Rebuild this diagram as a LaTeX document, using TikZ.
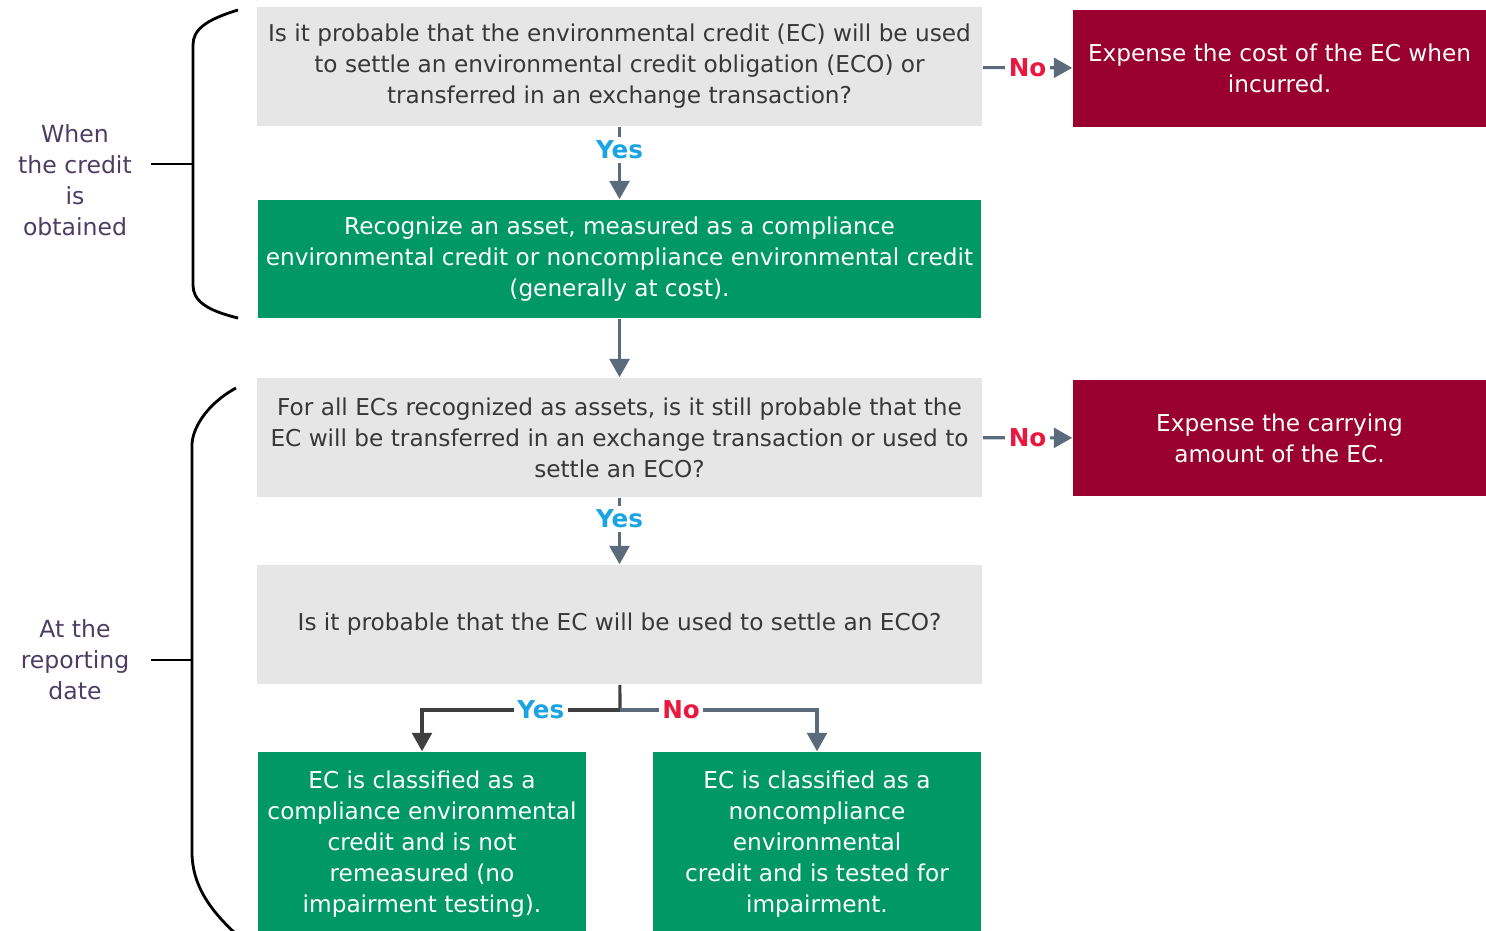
\documentclass[tikz,border=0pt]{standalone}
\usepackage{fontspec}
\setmainfont{DejaVu Sans}
\usepackage{tikz}
\usetikzlibrary{arrows.meta, positioning, calc}

\definecolor{qgray}{HTML}{E6E6E6}
\definecolor{okgreen}{HTML}{009966}
\definecolor{nored}{HTML}{990030}
\definecolor{slate}{HTML}{5B6B7C}
\definecolor{yescyan}{HTML}{1BA4E2}
\definecolor{nopink}{HTML}{E8183F}
\definecolor{darkline}{HTML}{3F3F3F}
\definecolor{phase}{HTML}{4E3D63}

\begin{document}
\begin{tikzpicture}[
    x=0.01cm, y=-0.01cm,
    font=\fontsize{6.6}{8.8}\selectfont,
    question/.style={fill=qgray, text=black!78, minimum width=7.25cm, minimum height=1.19cm, align=center, inner sep=0pt},
    result/.style={fill=okgreen, text=white, minimum width=7.23cm, minimum height=1.18cm, align=center, inner sep=0pt},
    expense/.style={fill=nored, text=white, minimum width=4.13cm, minimum height=1.16cm, align=center, inner sep=0pt},
    leaf/.style={fill=okgreen, text=white, minimum width=3.28cm, minimum height=1.84cm, align=center, inner sep=0pt},
    arrow/.style={-{Triangle[width=5.6pt, length=5.2pt]}, line width=0.9pt, draw=slate},
    yes/.style={fill=white, text=yescyan, font=\fontsize{7}{8}\selectfont\bfseries, inner sep=1pt},
    no/.style={fill=white, text=nopink, font=\fontsize{7}{8}\selectfont\bfseries, inner sep=1pt},
    phase/.style={text=phase, align=center, font=\fontsize{6.7}{8.8}\selectfont},
    brace/.style={line width=0.8pt, draw=black}
]
    \useasboundingbox (0,0) rectangle (1486,930);

    % first stage: obtaining the credit
    \node[question] (q1) at (619.5,66.5) {Is it probable that the environmental credit (EC) will be used\\to settle an environmental credit obligation (ECO) or\\transferred in an exchange transaction?};
    \node[expense] (r1) at (1279.5,68.5) {Expense the cost of the EC when\\incurred.};
    \node[result] (g1) at (619.5,259) {Recognize an asset, measured as a compliance\\environmental credit or noncompliance environmental credit\\(generally at cost).};

    % second stage: reporting date
    \node[question] (q2) at (619.5,437.5) {For all ECs recognized as assets, is it still probable that the\\EC will be transferred in an exchange transaction or used to\\settle an ECO?};
    \node[expense] (r2) at (1279.5,438) {Expense the carrying\\amount of the EC.};
    \node[question] (q3) at (619.5,624.5) {Is it probable that the EC will be used to settle an ECO?};
    \node[leaf] (g2) at (422,844) {EC is classified as a\\compliance environmental\\credit and is not\\remeasured (no\\impairment testing).};
    \node[leaf] (g3) at (817,844) {EC is classified as a\\noncompliance\\environmental\\credit and is tested for\\impairment.};

    \draw[arrow] (q1) -- (r1) node[midway, no] {No};
    \draw[arrow] (q1) -- (g1) node[pos=0.32, yes] {Yes};
    \draw[arrow] (g1) -- (q2);
    \draw[arrow] (q2) -- (r2) node[midway, no] {No};
    \draw[arrow] (q2) -- (q3) node[pos=0.32, yes] {Yes};

    % split below the last question
    \coordinate (split) at (620,710);
    \draw[line width=0.9pt, darkline] (q3) -- (split);
    \draw[arrow, draw=darkline] (split) -| node[pos=0.2, yes] {Yes} (g2);
    \draw[arrow] (split) -| node[pos=0.155, no] {No} (g3);

    % phase labels and braces
    \node[phase] (obtained) at (75,180) {When\\the credit\\is\\obtained};
    \node[phase] (reporting) at (75,660) {At the\\reporting\\date};
    \draw[brace] (238,10) .. controls (205,20) and (193,30) .. (193,45) -- (193,285) .. controls (193,300) and (205,310) .. (238,318);
    \draw[brace] (151,164) -- (193,164);
    \draw[brace] (236,388) .. controls (205,405) and (192,430) .. (192,445) -- (192,852) .. controls (192,885) and (210,910) .. (236,934);
    \draw[brace] (151,660) -- (192,660);
\end{tikzpicture}
\end{document}
